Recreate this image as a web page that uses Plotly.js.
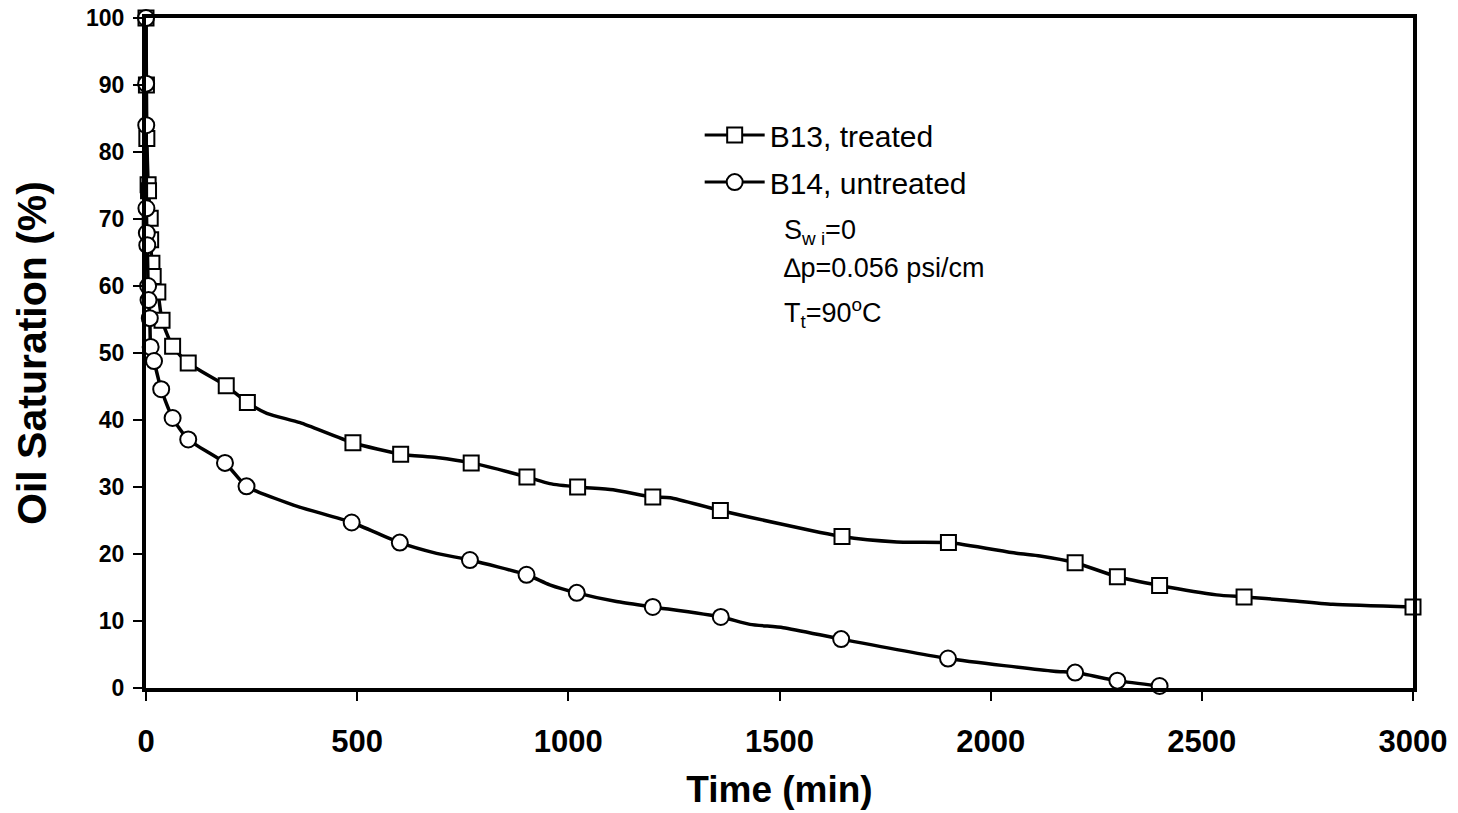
<!DOCTYPE html>
<html>
<head>
<meta charset="utf-8">
<script src="https://cdn.plot.ly/plotly-3.0.1.min.js"></script>
<style>html,body{margin:0;padding:0;background:#fff;}#chart{width:1458px;height:813px;}</style>
</head>
<body>
<div id="chart"></div>
<script>
// B13, treated — measured points (markers)
var b13Time = [0, 1, 2, 5, 6, 10, 11, 14, 17, 28, 38, 63, 100, 190, 240, 490, 603, 770, 902, 1022, 1200, 1360, 1648, 1900, 2200, 2300, 2400, 2600, 3000];
var b13Sat  = [100, 90, 82, 75.1, 74.2, 70.1, 66.9, 63.4, 61.4, 59.1, 54.9, 51.0, 48.5, 45.1, 42.6, 36.6, 34.9, 33.6, 31.5, 30.0, 28.5, 26.5, 22.6, 21.7, 18.7, 16.6, 15.3, 13.6, 12.1];
// B13 extra curve points (line only)
var b13LineTime = [286, 365, 688, 956, 1106, 1241, 1778, 2061, 2117, 2535, 2700, 2810];
var b13LineSat  = [41.0, 39.6, 34.4, 30.5, 29.6, 28.4, 21.8, 20.1, 19.7, 13.9, 13.1, 12.5];

// B14, untreated — measured points (markers)
var b14Time = [0, 0.3, 0.6, 1, 2, 3, 5, 6, 9, 11, 19, 36, 63, 100, 187, 238, 487, 601, 767, 901, 1020, 1200, 1361, 1646, 1899, 2200, 2300, 2400];
var b14Sat  = [100, 90.2, 84.0, 71.6, 67.9, 66.1, 60.0, 57.9, 55.2, 50.9, 48.8, 44.6, 40.3, 37.1, 33.6, 30.1, 24.7, 21.7, 19.1, 16.9, 14.2, 12.1, 10.6, 7.3, 4.4, 2.3, 1.1, 0.3];
// B14 extra curve points (line only)
var b14LineTime = [349, 688, 956, 1114, 1430, 1509, 2150];
var b14LineSat  = [27.3, 20.1, 15.4, 12.9, 9.5, 9.0, 2.5];

var xTicks = [0, 500, 1000, 1500, 2000, 2500, 3000];
var yTicks = [0, 10, 20, 30, 40, 50, 60, 70, 80, 90, 100];

function merge(t1, s1, t2, s2) {
  var pts = [];
  for (var i = 0; i < t1.length; i++) pts.push([t1[i], s1[i]]);
  for (var j = 0; j < t2.length; j++) pts.push([t2[j], s2[j]]);
  pts.sort(function (a, b) { return a[0] - b[0]; });
  return { x: pts.map(function (p) { return p[0]; }), y: pts.map(function (p) { return p[1]; }) };
}
var b13Line = merge(b13Time, b13Sat, b13LineTime, b13LineSat);
var b14Line = merge(b14Time, b14Sat, b14LineTime, b14LineSat);

var FONT = 'Arial, "Liberation Sans", sans-serif';
var lineStyle = { color: '#000', width: 3.5, shape: 'spline', smoothing: 0.6 };
var markerLine = { color: '#000', width: 2 };

var traces = [
  { x: b13Line.x, y: b13Line.y, mode: 'lines', line: lineStyle, showlegend: false, hoverinfo: 'skip', cliponaxis: false },
  { x: b13Time, y: b13Sat, mode: 'markers', marker: { symbol: 'square', size: 15, color: '#fff', line: markerLine }, showlegend: false, cliponaxis: false },
  { x: b14Line.x, y: b14Line.y, mode: 'lines', line: lineStyle, showlegend: false, hoverinfo: 'skip', cliponaxis: false },
  { x: b14Time, y: b14Sat, mode: 'markers', marker: { symbol: 'circle', size: 16, color: '#fff', line: markerLine }, showlegend: false, cliponaxis: false },
  { x: [null], y: [null], name: 'B13, treated', mode: 'lines+markers', legendgroup: 'a',
    line: { color: '#000', width: 3 }, marker: { symbol: 'square', size: 15, color: '#fff', line: markerLine } },
  { x: [null], y: [null], name: 'B14, untreated', mode: 'lines+markers', legendgroup: 'b',
    line: { color: '#000', width: 3 }, marker: { symbol: 'circle', size: 16, color: '#fff', line: markerLine } }
];

var axisCommon = {
  showline: true, linecolor: '#000', linewidth: 4, mirror: true,
  ticks: 'outside', ticklen: 9, tickwidth: 2, tickcolor: '#000',
  showgrid: false, zeroline: false
};

var layout = {
  width: 1458, height: 813,
  margin: { l: 146, r: 45, t: 18, b: 125 },
  paper_bgcolor: '#fff', plot_bgcolor: '#fff',
  xaxis: Object.assign({}, axisCommon, {
    range: [0, 3000], tickvals: xTicks, ticktext: xTicks.map(String),
    tickfont: { family: FONT, size: 31, color: '#000', weight: 'bold' },
    ticklabelstandoff: 14,
    title: { text: 'Time (min)', font: { family: FONT, size: 37, color: '#000', weight: 'bold' }, standoff: 19 }
  }),
  yaxis: Object.assign({}, axisCommon, {
    range: [0, 100], tickvals: yTicks, ticktext: yTicks.map(String),
    tickfont: { family: FONT, size: 23, color: '#000', weight: 'bold' },
    ticklabelstandoff: 4,
    title: { text: 'Oil Saturation (%)', font: { family: FONT, size: 41, color: '#000', weight: 'bold' }, standoff: 28 }
  }),
  legend: {
    x: 0.437, y: 0.864, xanchor: 'left', yanchor: 'top',
    bgcolor: 'rgba(0,0,0,0)', borderwidth: 0,
    font: { family: FONT, size: 30, color: '#000' },
    itemwidth: 60, tracegroupgap: 5
  },
  annotations: [
    { xref: 'paper', yref: 'paper', x: 0.502, y: 0.680, xanchor: 'left', yanchor: 'middle', showarrow: false,
      text: 'S<sub>w i</sub>=0', font: { family: FONT, size: 27, color: '#000' } },
    { xref: 'paper', yref: 'paper', x: 0.502, y: 0.627, xanchor: 'left', yanchor: 'middle', showarrow: false,
      text: '\u2206p=0.056 psi/cm', font: { family: FONT, size: 27, color: '#000' } },
    { xref: 'paper', yref: 'paper', x: 0.502, y: 0.560, xanchor: 'left', yanchor: 'middle', showarrow: false,
      text: 'T<sub>t</sub>=90<sup>o</sup>C', font: { family: FONT, size: 27, color: '#000' } }
  ],
  showlegend: true
};

Plotly.newPlot('chart', traces, layout, { displayModeBar: false, staticPlot: true });
</script>
</body>
</html>
